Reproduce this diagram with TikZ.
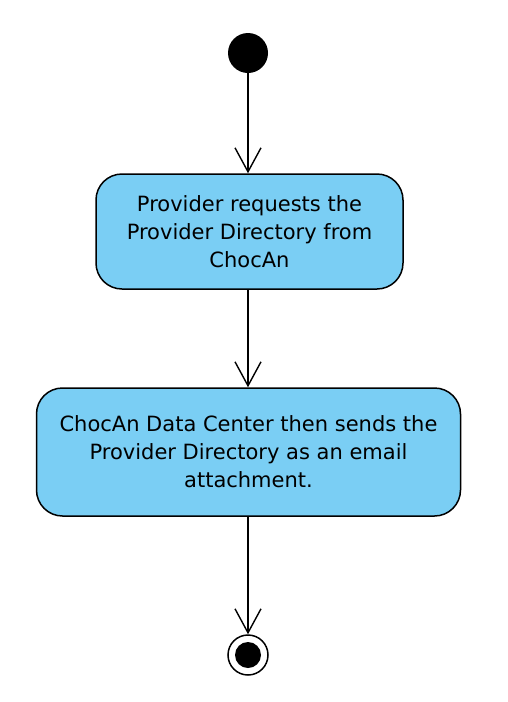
\documentclass[tikz,border=0pt]{standalone}
\usepackage{fontspec}
\setmainfont{DejaVu Sans}
\usetikzlibrary{arrows.meta}
\definecolor{actblue}{RGB}{122,206,244}
\begin{document}
\begin{tikzpicture}[
            x=1pt, y=-1pt,
            startnode/.style={circle, fill=black, minimum size=40pt, inner sep=0pt},
            endnode/.style={circle, draw=black, line width=1.5pt, fill=white, minimum size=40pt, inner sep=0pt},
            actnode/.style={rectangle, rounded corners=26pt, draw=black, line width=1.5pt, fill=actblue,
                            align=center, font=\fontsize{21}{28}\selectfont, inner sep=0pt},
            flow/.style={-{Straight Barb[length=24pt, width=26pt]}, line width=1.4pt}
        ]
        \useasboundingbox (0,0) rectangle (508,702);

        % Start
        \node[startnode] (start) at (248,53) {};

        % Actions
        \node[actnode, minimum width=307pt, minimum height=115pt] (request) at (249.5,231.5)
            {Provider requests the\\Provider Directory from\\ChocAn};
        \node[actnode, minimum width=424pt, minimum height=128pt] (send) at (248.5,452)
            {ChocAn Data Center then sends the\\Provider Directory as an email\\attachment.};

        % End
        \node[endnode] (stop) at (248,655) {};
        \fill (stop.center) circle (13pt);

        % Flows
        \draw[flow] (start) -- (start |- request.north);
        \draw[flow] (request.south -| start) -- (start |- send.north);
        \draw[flow] (send.south -| start) -- (stop);

    \end{tikzpicture}
\end{document}
